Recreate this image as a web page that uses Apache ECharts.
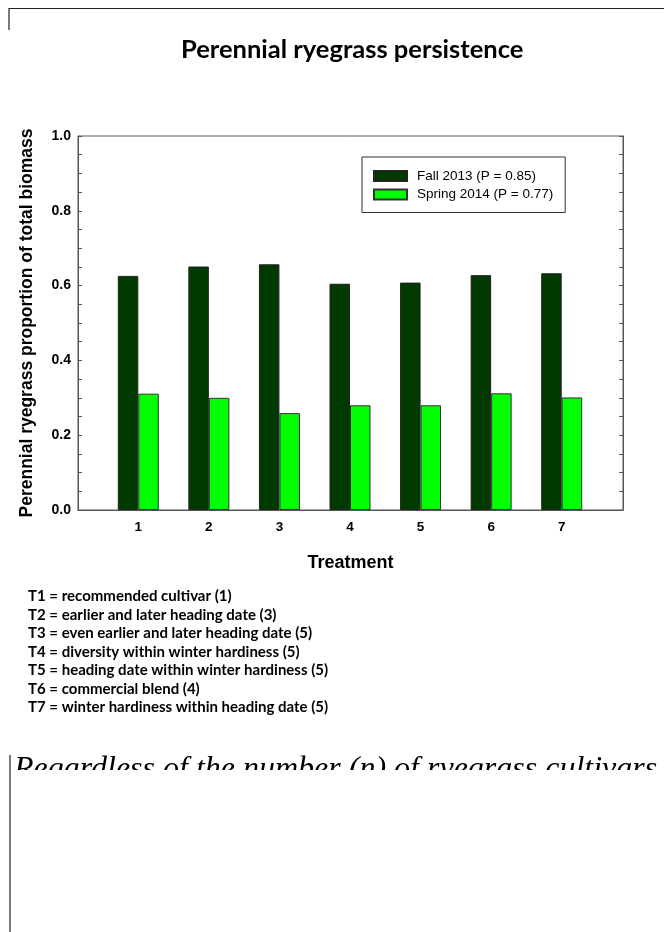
<!DOCTYPE html>
<html>
<head>
<meta charset="utf-8">
<script src="https://cdn.jsdelivr.net/npm/echarts@6/dist/echarts.min.js"></script>
<style>
  html, body { margin: 0; padding: 0; background: #fff; }
  #chart { width: 664px; height: 932px; }
</style>
</head>
<body>
<div id="chart"></div>
<script>
// treatments on the x axis
var treatments = ['1', '2', '3', '4', '5', '6', '7'];
// proportion of total biomass
var fall2013 = [0.626, 0.651, 0.657, 0.605, 0.608, 0.628, 0.633];
var spring2014 = [0.311, 0.300, 0.259, 0.280, 0.280, 0.312, 0.301];
var seriesNames = ['Fall 2013 (P = 0.85)', 'Spring 2014 (P = 0.77)'];
// treatment key under the chart
var notes = [
    'T1 = recommended cultivar (1)',
    'T2 = earlier and later heading date (3)',
    'T3 = even earlier and later heading date (5)',
    'T4 = diversity within winter hardiness (5)',
    'T5 = heading date within winter hardiness (5)',
    'T6 = commercial blend (4)',
    'T7 = winter hardiness within heading date (5)'
];
var caption = 'Regardless of the number (n) of ryegrass cultivars';

var chart = echarts.init(document.getElementById('chart'));

var axisFont = 'Liberation Sans, Arial, sans-serif';
var noteGraphics = notes.map(function (t, i) {
    return {
        type: 'text', left: 28, top: 589 + i * 18.5,
        style: { text: t, font: 'bold 15px Lato, sans-serif', fill: '#000' }
    };
});

var option = {
    backgroundColor: '#fff',
    animation: false,
    title: {
        text: 'Perennial ryegrass persistence',
        left: 176, top: 32,
        textStyle: { fontFamily: 'Lato, sans-serif', fontWeight: 'bold', fontSize: 25.5, color: '#000' }
    },
    legend: {
        left: 362, top: 157,
        orient: 'vertical',
        padding: [11, 12, 10, 11],
        borderColor: '#333', borderWidth: 1,
        itemWidth: 33, itemHeight: 10, itemGap: 2.5,
        icon: 'rect',
        textStyle: { fontFamily: axisFont, fontSize: 13.5, color: '#000', lineHeight: 16, padding: [0, 0, 0, 5] },
        data: seriesNames
    },
    grid: [
        // bars: 7 bands of ~70.6px
        { left: 103, top: 136, width: 494, height: 374 },
        // frame
        { left: 78, top: 136, width: 545, height: 374, show: true, borderColor: '#555', borderWidth: 1 }
    ],
    xAxis: [
        {
            type: 'category', gridIndex: 0, data: treatments,
            axisLine: { show: false }, axisTick: { show: false },
            axisLabel: { fontFamily: axisFont, fontWeight: 'bold', fontSize: 13.5, color: '#000', margin: 10 }
        },
        {
            type: 'value', gridIndex: 1, min: 0, max: 1,
            axisLine: { show: true, lineStyle: { color: '#555' } },
            axisTick: { show: false }, axisLabel: { show: false }, splitLine: { show: false },
            name: 'Treatment', nameLocation: 'middle', nameGap: 44,
            nameTextStyle: { fontFamily: axisFont, fontWeight: 'bold', fontSize: 18, color: '#000' }
        }
    ],
    yAxis: [
        { type: 'value', gridIndex: 0, min: 0, max: 1, show: false },
        {
            type: 'value', gridIndex: 1, min: 0, max: 1, interval: 0.2, position: 'left',
            axisLine: { show: true, lineStyle: { color: '#555' } },
            axisTick: { show: true, inside: true, length: 4, lineStyle: { color: '#555' } },
            minorTick: { show: true, splitNumber: 4, length: 4, lineStyle: { color: '#555' } },
            splitLine: { show: false },
            axisLabel: {
                fontFamily: axisFont, fontWeight: 'bold', fontSize: 14, color: '#000', margin: 7,
                formatter: function (v) { return v.toFixed(1); }
            },
            name: 'Perennial ryegrass proportion of total biomass',
            nameLocation: 'middle', nameGap: 42, nameRotate: 90,
            nameTextStyle: { fontFamily: axisFont, fontWeight: 'bold', fontSize: 17.5, color: '#000' }
        },
        {
            type: 'value', gridIndex: 1, min: 0, max: 1, interval: 0.2, position: 'right',
            axisLine: { show: true, lineStyle: { color: '#555' } },
            axisTick: { show: true, inside: true, length: 4, lineStyle: { color: '#555' } },
            minorTick: { show: true, splitNumber: 4, length: 4, lineStyle: { color: '#555' } },
            splitLine: { show: false },
            axisLabel: { show: false }
        }
    ],
    series: [
        {
            name: seriesNames[0], type: 'bar', xAxisIndex: 0, yAxisIndex: 0,
            data: fall2013, barWidth: 20.5, barGap: '0%',
            itemStyle: { color: '#003a00', borderColor: '#222', borderWidth: 1 }
        },
        {
            name: seriesNames[1], type: 'bar', xAxisIndex: 0, yAxisIndex: 0,
            data: spring2014, barWidth: 20.5, barGap: '0%',
            itemStyle: { color: '#00ff00', borderColor: '#333', borderWidth: 1 }
        }
    ],
    graphic: [
        { type: 'polyline', shape: { points: [[9, 30], [9, 8.5], [664, 8.5]] }, style: { stroke: '#222', lineWidth: 1.2, fill: null } }
    ].concat(noteGraphics).concat([
        {
            type: 'text', left: 14, top: 754, z: 10,
            style: { text: caption, font: 'italic 32px "Liberation Serif", serif', fill: '#000' }
        },
        { type: 'rect', shape: { x: 11, y: 770, width: 660, height: 170 }, style: { fill: '#fff' }, z: 11 },
        { type: 'line', shape: { x1: 10, y1: 755, x2: 10, y2: 932 }, style: { stroke: '#222', lineWidth: 1.2 }, z: 12 }
    ])
};

chart.setOption(option);
</script>
</body>
</html>
